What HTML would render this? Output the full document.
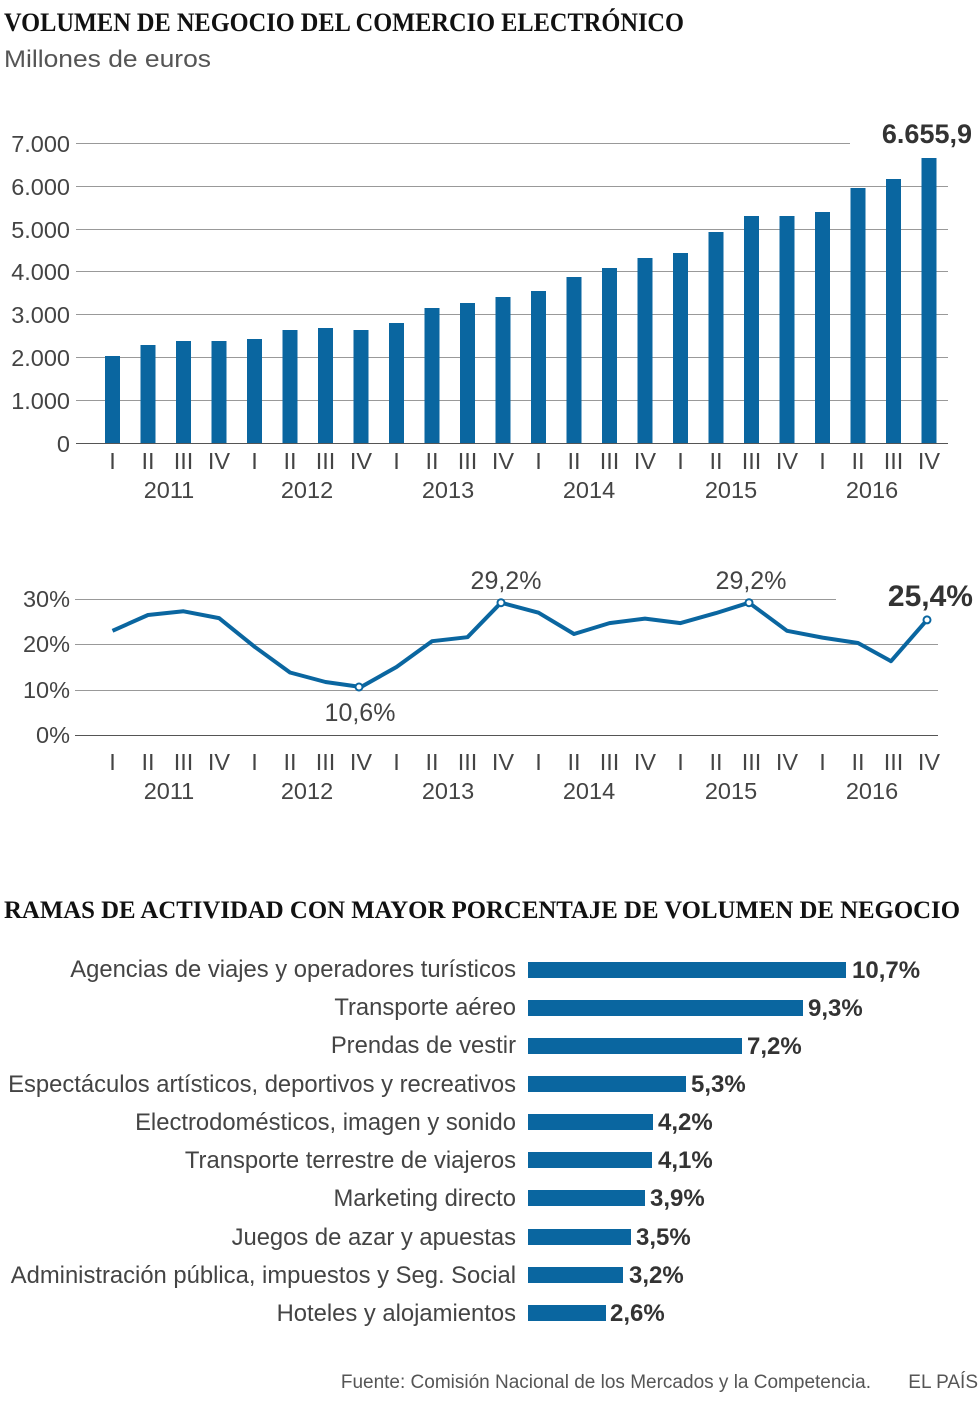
<!DOCTYPE html><html><head><meta charset="utf-8"><style>body{margin:0;background:#fff}svg{display:block}</style></head><body>
<svg width="980" height="1406" xmlns="http://www.w3.org/2000/svg" font-family="Liberation Sans, sans-serif" fill="#333">
<text x="4" y="31" font-family="Liberation Serif, serif" font-weight="bold" font-size="26" textLength="680" lengthAdjust="spacingAndGlyphs" fill="#111">VOLUMEN DE NEGOCIO DEL COMERCIO ELECTRÓNICO</text>
<text x="4" y="67" font-size="24" fill="#555" textLength="207" lengthAdjust="spacingAndGlyphs">Millones de euros</text>
<g stroke="#999" stroke-width="1">
<line x1="76" y1="143.5" x2="850" y2="143.5"/><line x1="76" y1="186.5" x2="948" y2="186.5"/><line x1="76" y1="229.5" x2="948" y2="229.5"/><line x1="76" y1="271.5" x2="948" y2="271.5"/><line x1="76" y1="314.5" x2="948" y2="314.5"/><line x1="76" y1="357.5" x2="948" y2="357.5"/><line x1="76" y1="400.5" x2="948" y2="400.5"/><line x1="76" y1="443.5" x2="948" y2="443.5" stroke="#555"/>
</g>
<g font-size="23.5" fill="#444" text-anchor="end">
<text x="70" y="152">7.000</text><text x="70" y="195">6.000</text><text x="70" y="238">5.000</text><text x="70" y="280">4.000</text><text x="70" y="323">3.000</text><text x="70" y="366">2.000</text><text x="70" y="409">1.000</text><text x="70" y="452">0</text>
</g>
<g fill="#0a66a0">
<rect x="105" y="356" width="15" height="87"/><rect x="140.5" y="345" width="15" height="98"/><rect x="176" y="341" width="15" height="102"/><rect x="211.5" y="341" width="15" height="102"/><rect x="247" y="339" width="15" height="104"/><rect x="282.5" y="330" width="15" height="113"/><rect x="318" y="328" width="15" height="115"/><rect x="353.5" y="330" width="15" height="113"/><rect x="389" y="323" width="15" height="120"/><rect x="424.5" y="308" width="15" height="135"/><rect x="460" y="303" width="15" height="140"/><rect x="495.5" y="297" width="15" height="146"/><rect x="531" y="291" width="15" height="152"/><rect x="566.5" y="277" width="15" height="166"/><rect x="602" y="268" width="15" height="175"/><rect x="637.5" y="258" width="15" height="185"/><rect x="673" y="253" width="15" height="190"/><rect x="708.5" y="232" width="15" height="211"/><rect x="744" y="216" width="15" height="227"/><rect x="779.5" y="216" width="15" height="227"/><rect x="815" y="212" width="15" height="231"/><rect x="850.5" y="188" width="15" height="255"/><rect x="886" y="179" width="15" height="264"/><rect x="921.5" y="158" width="15" height="285"/>
</g>
<text x="972" y="143" font-size="27" font-weight="bold" text-anchor="end" fill="#333">6.655,9</text>
<g font-size="23.5" fill="#444" text-anchor="middle" id="q">
<text x="112.5" y="469">I</text><text x="148" y="469">II</text><text x="183.5" y="469">III</text><text x="219" y="469">IV</text>
<text x="254.5" y="469">I</text><text x="290" y="469">II</text><text x="325.5" y="469">III</text><text x="361" y="469">IV</text>
<text x="396.5" y="469">I</text><text x="432" y="469">II</text><text x="467.5" y="469">III</text><text x="503" y="469">IV</text>
<text x="538.5" y="469">I</text><text x="574" y="469">II</text><text x="609.5" y="469">III</text><text x="645" y="469">IV</text>
<text x="680.5" y="469">I</text><text x="716" y="469">II</text><text x="751.5" y="469">III</text><text x="787" y="469">IV</text>
<text x="822.5" y="469">I</text><text x="858" y="469">II</text><text x="893.5" y="469">III</text><text x="929" y="469">IV</text>
<text x="169" y="498">2011</text><text x="307" y="498">2012</text><text x="448" y="498">2013</text><text x="589" y="498">2014</text><text x="731" y="498">2015</text><text x="872" y="498">2016</text>
</g>
<use href="#q" y="301"/>
<g stroke="#999" stroke-width="1">
<line x1="75" y1="599.5" x2="836" y2="599.5"/><line x1="75" y1="644.5" x2="938" y2="644.5"/><line x1="75" y1="690.5" x2="938" y2="690.5"/><line x1="75" y1="735.5" x2="938" y2="735.5" stroke="#555"/>
</g>
<g font-size="23.5" fill="#444" text-anchor="end">
<text x="70" y="607">30%</text><text x="70" y="652">20%</text><text x="70" y="698">10%</text><text x="70" y="743">0%</text>
</g>
<polyline fill="none" stroke="#0a66a0" stroke-width="4" stroke-linejoin="round" points="112.5,630.8 148,615 183.5,611.3 219,618.1 254.5,646.7 290,672.5 325.5,682 361,687 396.5,667 432,641.2 467.5,637.2 501,602.7 538.5,612.7 574,634 609.5,623.1 645,618.6 680.5,623.1 716,613.1 749,602.7 787,630.8 822.5,637.6 858,643 891,661.2 927,619.9"/>
<g fill="#fff" stroke="#0a66a0" stroke-width="2"><circle cx="359" cy="687" r="3.5"/><circle cx="501" cy="602.7" r="3.5"/><circle cx="749" cy="602.7" r="3.5"/><circle cx="927" cy="619.9" r="3.5"/></g>
<g font-size="25" fill="#444" text-anchor="middle"><text x="506" y="589">29,2%</text><text x="751" y="589">29,2%</text><text x="360" y="721">10,6%</text></g>
<text x="973" y="606" font-size="30" font-weight="bold" text-anchor="end" fill="#333">25,4%</text>
<text x="4" y="918" font-family="Liberation Serif, serif" font-weight="bold" font-size="25" textLength="956" lengthAdjust="spacingAndGlyphs" fill="#111">RAMAS DE ACTIVIDAD CON MAYOR PORCENTAJE DE VOLUMEN DE NEGOCIO</text>
<g font-size="23.8" fill="#444" text-anchor="end">
<text x="516" y="977">Agencias de viajes y operadores turísticos</text>
<text x="516" y="1015">Transporte aéreo</text>
<text x="516" y="1053">Prendas de vestir</text>
<text x="516" y="1092">Espectáculos artísticos, deportivos y recreativos</text>
<text x="516" y="1130">Electrodomésticos, imagen y sonido</text>
<text x="516" y="1168">Transporte terrestre de viajeros</text>
<text x="516" y="1206">Marketing directo</text>
<text x="516" y="1245">Juegos de azar y apuestas</text>
<text x="516" y="1283">Administración pública, impuestos y Seg. Social</text>
<text x="516" y="1321">Hoteles y alojamientos</text>
</g>
<g fill="#0a66a0">
<rect x="528" y="962" width="318" height="16"/><rect x="528" y="1000" width="275" height="16"/><rect x="528" y="1038" width="214" height="16"/><rect x="528" y="1076" width="158" height="16"/><rect x="528" y="1114" width="125" height="16"/><rect x="528" y="1152" width="124" height="16"/><rect x="528" y="1190" width="117" height="16"/><rect x="528" y="1229" width="103" height="16"/><rect x="528" y="1267" width="95" height="16"/><rect x="528" y="1305" width="78" height="16"/>
</g>
<g font-size="24" font-weight="bold" fill="#333">
<text x="852" y="978">10,7%</text><text x="808" y="1016">9,3%</text><text x="747" y="1054">7,2%</text><text x="691" y="1092">5,3%</text><text x="658" y="1130">4,2%</text><text x="658" y="1168">4,1%</text><text x="650" y="1206">3,9%</text><text x="636" y="1245">3,5%</text><text x="629" y="1283">3,2%</text><text x="610" y="1321">2,6%</text>
</g>
<text x="871" y="1388" font-size="19" fill="#555" text-anchor="end">Fuente: Comisión Nacional de los Mercados y la Competencia.</text>
<text x="978" y="1388" font-size="19" fill="#555" text-anchor="end">EL PAÍS</text>
</svg>
</body></html>
